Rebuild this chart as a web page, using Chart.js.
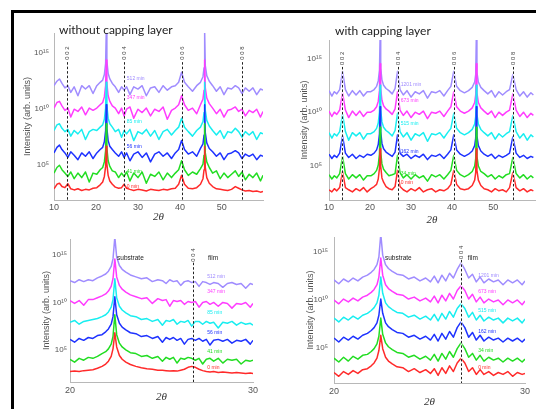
<!DOCTYPE html>
<html>
<head>
<meta charset="utf-8">
<script src="https://cdn.jsdelivr.net/npm/chart.js@4.4.1/dist/chart.umd.min.js"></script>
<style>
  body { margin: 0; background: #fff; width: 536px; height: 409px; overflow: hidden; position: relative; }
  #frame { position: absolute; left: 11px; top: 10px; width: 530px; height: 405px; border-top: 3px solid #000; border-left: 3px solid #000; }
  canvas { position: absolute; }
</style>
</head>
<body>
<div id="frame"></div>
<canvas id="tl" width="254" height="210" style="left:14px;top:14px"></canvas>
<canvas id="tr" width="251" height="214" style="left:285px;top:14px"></canvas>
<canvas id="bl" width="250" height="183" style="left:14px;top:226px"></canvas>
<canvas id="br" width="251" height="183" style="left:285px;top:226px"></canvas>
<script>
// ---- data (intensities as log10 values) ----
const panelTitles = ["without capping layer", "with capping layer"];
const axisTitleY = "Intensity (arb. units)";
const axisTitleX = "2θ";
const yTickValues = [1e5, 1e10, 1e15];
const yTickLabels = ["10⁵", "10¹⁰", "10¹⁵"];
const topXTicks = [10, 20, 30, 40, 50];
const bottomXTicks = [20, 30];
const peakNames = ["0 0 2", "0 0 4", "0 0 6", "0 0 8"];
const peakTop = [13.2, 26.7, 40.4, 54.8];
const peakBottomNames = ["0 0 4"];
const peakBottomL = [26.7];
const peakBottomR = [26.65];
const noteTexts = ["substrate", "film"];
const namesNoCap = ["0 min", "41 min", "56 min", "85 min", "347 min", "512 min"];
const namesCap = ["0 min", "34 min", "162 min", "515 min", "673 min", "1201 min"];

const xTop = [10.0,10.7,11.3,11.9,12.6,13.3,14.0,14.8,15.7,16.6,17.5,18.4,19.3,20.2,21.0,21.6,22.0,22.3,22.45,22.6,22.9,23.3,23.9,24.6,25.4,26.1,26.7,27.3,28.1,29.0,30.0,31.0,32.0,33.0,34.0,35.0,36.0,37.0,38.0,38.9,39.7,40.4,41.1,42.0,43.0,44.0,44.9,45.5,45.75,45.9,46.05,46.4,47.0,47.8,48.7,49.6,50.5,51.4,52.3,53.2,54.0,54.8,55.6,56.5,57.4,58.3,59.2,59.8];

const tlRed = [2.9,3.3,3.4,3.1,3.0,3.35,2.9,2.8,2.9,2.75, 2.85,2.8,2.95,3.0,3.25,3.5,4.0,4.9,6.7,5.1, 4.1,3.6,3.3,3.05,2.95,3.0,3.3,2.95,2.85,2.75, 2.85,2.8,2.7,2.85,2.8,2.75,2.85,2.8,2.9,2.95, 3.3,4.1,3.3,2.95,2.9,3.0,3.3,3.8,4.6,6.7, 4.8,3.9,3.4,3.1,2.9,2.85,2.8,2.75,2.85,3.1, 2.95,2.8,2.7,2.75,2.65,2.7,2.6,2.65];
const tlGreen = [4.3,4.8,5.0,4.6,4.3,4.0,4.4,3.8,4.3,3.9, 4.4,3.5,4.3,4.2,4.6,4.8,5.3,6.3,8.7,6.5, 5.4,4.9,4.5,4.4,3.9,4.3,4.0,4.4,3.6,4.3, 3.9,4.4,3.4,4.2,4.0,4.4,3.7,4.3,3.9,4.3, 4.6,5.4,4.6,4.1,4.4,4.2,4.7,5.1,5.9,8.7, 6.1,5.3,4.8,4.3,4.5,3.8,4.3,3.9,4.2,4.5, 4.0,4.4,3.7,4.2,3.9,4.3,3.6,4.1];
const tlBlue = [6.1,6.6,6.8,6.4,6.1,5.7,6.2,5.9,5.5,6.1, 5.8,6.2,5.6,6.1,6.4,6.6,7.1,8.1,10.4,8.3, 7.2,6.7,6.4,6.1,5.8,6.2,5.7,6.1,5.4,6.0, 6.2,5.7,6.1,5.3,6.0,6.2,5.8,6.1,5.6,6.1, 6.4,7.2,6.4,6.0,6.2,5.8,6.5,6.9,7.7,10.4, 7.9,7.0,6.5,6.2,5.8,6.1,5.5,6.0,6.1,6.3, 6.1,5.6,6.0,5.8,6.0,5.5,5.9,5.8];
const tlCyan = [8.1,8.6,8.7,8.3,8.0,8.2,7.6,8.1,7.8,8.2, 7.3,8.0,8.2,8.1,8.4,8.6,9.1,10.1,12.4,10.3, 9.2,8.7,8.4,8.0,8.2,7.5,8.1,7.8,8.2,7.2, 8.0,7.8,8.2,7.6,8.1,7.3,8.0,8.2,7.7,8.1, 8.4,9.2,8.4,8.0,7.6,8.1,8.4,8.9,9.7,12.4, 9.9,9.0,8.5,8.1,7.7,8.1,7.4,8.0,7.9,8.3, 8.0,7.5,8.0,7.7,8.0,7.3,7.9,7.8];
const tlMagenta = [10.1,10.6,10.7,10.3,9.9,10.1,9.3,10.0,9.8,10.2, 9.5,10.1,9.9,10.1,10.4,10.6,11.1,12.1,14.4,12.3, 11.2,10.7,10.3,10.1,9.6,10.1,9.4,10.0,10.2,9.2, 10.0,9.7,10.1,9.4,10.0,9.8,10.2,9.1,9.9,10.1, 10.4,11.2,10.4,9.9,10.1,9.6,10.4,10.9,11.7,14.4, 11.9,11.0,10.5,10.1,9.6,10.0,9.3,9.9,10.0,10.2, 9.8,10.0,9.4,9.9,9.7,10.0,9.3,9.8];
const tlPurple = [12.1,12.5,12.7,12.3,11.9,12.1,11.5,12.0,11.2,12.1, 11.8,12.1,11.4,12.1,12.4,12.6,13.1,14.1,16.9,14.3, 13.2,12.7,12.3,12.0,11.5,12.0,11.7,12.0,11.3,12.0, 11.8,12.1,11.2,11.9,12.0,11.5,12.1,11.7,12.0,12.1, 12.4,13.3,12.4,12.0,11.6,12.1,12.4,12.9,13.7,16.9, 13.9,13.0,12.5,12.1,11.6,12.0,11.3,11.9,11.8,12.1, 11.9,11.4,11.9,11.6,11.9,11.3,11.8,11.7];

const trRed = [2.8,2.6,2.9,2.7,3.0,4.5,3.0,2.8,2.6,2.9, 2.7,3.0,2.6,2.9,3.1,3.3,3.8,4.8,6.6,5.0, 3.9,3.5,3.1,2.9,2.8,3.1,4.6,3.1,2.8,2.6, 2.9,2.7,3.0,2.6,2.8,2.9,2.6,2.8,2.7,2.9, 3.3,4.6,3.3,2.9,2.8,2.9,3.2,3.7,4.4,6.6, 4.6,3.7,3.2,2.9,2.8,2.6,2.9,2.7,2.8,2.6, 3.0,4.4,3.0,2.7,2.9,2.6,2.8,2.7];
const trGreen = [4.2,3.8,4.1,3.9,4.3,5.9,4.3,3.8,4.2,3.9, 4.2,3.7,4.1,4.1,4.3,4.6,5.1,6.1,8.6,6.3, 5.2,4.7,4.4,4.1,4.2,4.3,6.0,4.4,3.9,4.2, 3.8,4.2,3.9,4.1,3.6,4.2,4.0,4.2,3.8,4.2, 4.6,6.0,4.6,4.2,4.0,4.2,4.5,5.0,5.7,8.6, 5.9,5.0,4.5,4.3,4.0,4.2,3.8,4.1,3.9,4.2, 4.3,5.8,4.3,3.9,4.2,3.8,4.1,3.9];
const trBlue = [6.1,5.7,6.0,5.8,6.2,7.8,6.2,5.8,6.1,5.7, 6.0,5.8,6.1,6.0,6.2,6.5,7.0,8.0,10.5,8.2, 7.1,6.6,6.3,6.1,5.9,6.3,7.9,6.2,5.9,6.1, 5.7,6.0,5.8,6.1,5.6,6.0,5.9,6.1,5.7,6.1, 6.5,7.9,6.5,6.1,5.9,6.1,6.4,6.9,7.6,10.5, 7.8,6.9,6.4,6.1,5.9,6.1,5.7,6.0,5.8,6.0, 6.2,7.7,6.2,5.8,6.0,5.7,5.9,5.8];
const trCyan = [8.1,7.6,8.0,7.8,8.2,9.8,8.2,7.4,8.1,7.8, 8.1,7.5,8.0,8.0,8.2,8.5,9.0,10.0,12.5,10.2, 9.1,8.6,8.3,8.1,7.8,8.3,9.9,8.2,7.7,8.1, 7.4,8.0,7.8,8.1,7.3,8.0,7.9,8.1,7.6,8.1, 8.5,9.9,8.5,8.1,7.9,8.1,8.4,8.9,9.6,12.5, 9.8,8.9,8.4,8.1,7.8,8.1,7.5,8.0,7.7,8.0, 8.2,9.7,8.2,7.6,8.0,7.4,7.9,7.7];
const trMagenta = [10.1,9.6,10.0,9.8,10.2,11.8,10.2,9.5,10.1,9.7, 10.1,9.6,10.0,10.0,10.2,10.5,11.0,12.0,14.5,12.2, 11.1,10.6,10.3,10.1,9.8,10.3,11.9,10.2,9.7,10.1, 9.5,10.0,9.8,10.1,9.4,10.0,9.9,10.1,9.6,10.1, 10.5,11.9,10.5,10.1,9.9,10.1,10.4,10.9,11.6,14.5, 11.8,10.9,10.4,10.1,9.8,10.1,9.5,10.0,9.7,10.0, 10.2,11.7,10.2,9.6,10.0,9.5,9.9,9.7];
const trPurple = [12.0,11.5,11.9,11.7,12.1,13.8,12.1,11.5,12.0,11.6, 12.0,11.5,11.9,11.9,12.1,12.4,12.9,13.9,16.9,14.1, 13.0,12.5,12.2,12.0,11.7,12.2,13.8,12.1,11.6,12.0, 11.4,11.9,11.7,12.0,11.3,11.9,11.8,12.0,11.5,12.0, 12.4,13.8,12.4,12.0,11.8,12.0,12.3,12.8,13.5,16.9, 13.7,12.8,12.3,12.0,11.7,12.0,11.4,11.9,11.6,11.9, 12.1,13.5,12.1,11.5,11.9,11.4,11.8,11.6];

const xBot = [20.0,20.25,20.5,20.75,21.0,21.25,21.5,21.75,21.95,22.1,22.25,22.35,22.45,22.55,22.7,22.85,23.05,23.3,23.6,23.9,24.2,24.5,24.8,25.05,25.25,25.45,25.65,25.85,26.05,26.25,26.45,26.65,26.85,27.05,27.25,27.45,27.65,27.85,28.1,28.35,28.6,28.85,29.1,29.35,29.6,29.85,30.0];

const blRed = [2.7,2.75,2.7,2.8,2.85,2.9,3.05,3.25,3.5,3.8, 4.3,5.1,6.8,5.3,4.4,4.0,3.7,3.45,3.25,3.1, 3.0,2.95,2.85,2.85,2.8,2.75,2.8,2.75,2.85,2.95, 3.15,3.25,3.15,2.95,2.8,2.7,2.65,2.7,2.6,2.65, 2.6,2.55,2.6,2.55,2.5,2.55,2.5];
const blGreen = [4.0,3.7,4.1,3.9,4.2,4.1,4.3,4.6,4.8,5.1, 5.6,6.4,8.7,6.6,5.7,5.3,5.0,4.7,4.6,4.3, 4.4,4.1,4.3,3.8,4.2,4.0,4.2,3.6,4.1,4.0, 4.2,4.1,3.9,4.1,3.5,4.0,4.1,3.8,4.1,3.6, 4.0,3.9,4.0,3.5,3.9,3.8,3.9];
const blBlue = [6.1,5.8,6.2,6.0,6.3,6.2,6.5,6.6,6.9,7.2, 7.7,8.5,10.6,8.7,7.8,7.4,7.1,6.8,6.7,6.4, 6.5,6.2,6.4,5.8,6.3,6.1,6.3,6.0,6.2,5.6, 6.1,6.2,6.0,6.2,5.9,6.1,5.5,6.0,6.1,5.9, 6.1,5.7,6.0,5.9,6.1,5.6,6.0];
const blCyan = [7.9,8.1,7.7,8.0,8.1,8.2,8.3,8.5,8.7,9.0, 9.5,10.3,12.5,10.5,9.6,9.2,8.9,8.6,8.5,8.2, 8.3,8.0,8.2,7.6,8.1,8.0,8.2,7.7,8.0,7.9, 8.1,7.5,8.0,8.0,7.7,8.0,7.8,7.9,7.3,7.9, 7.8,8.0,7.6,7.9,7.7,7.8,7.6];
const blMagenta = [10.2,9.9,10.2,9.7,10.3,10.3,10.5,10.7,10.9,11.2, 11.7,12.5,14.6,12.7,11.8,11.4,11.1,10.8,10.6,10.4, 10.5,9.9,10.4,10.2,10.3,9.6,10.2,10.1,10.2,9.8, 10.1,10.0,10.1,9.5,10.0,10.1,9.8,10.0,9.6,10.0, 9.9,9.4,9.9,9.8,10.0,9.5,9.9];
const blPurple = [12.3,12.1,12.4,12.2,12.4,12.3,12.6,12.8,13.0,13.3, 13.8,14.6,16.9,14.8,13.9,13.5,13.2,12.9,12.7,12.5, 12.6,12.2,12.4,12.3,12.0,12.4,12.2,12.3,11.8,12.2, 12.3,12.1,12.2,11.7,12.2,12.1,11.9,12.1,12.0,11.6, 12.0,12.1,11.9,12.0,11.5,12.0,11.9];

const brRed = [2.4,2.0,2.5,2.2,2.6,2.3,2.7,2.8,3.1,3.4, 3.9,4.7,6.3,4.9,4.0,3.6,3.3,3.0,2.9,2.5, 2.8,2.4,2.7,2.3,2.8,2.1,2.9,2.3,3.1,2.5, 3.4,3.9,3.4,2.5,2.9,2.2,2.7,2.2,2.5,2.1, 2.4,2.2,2.5,2.0,2.4,2.2,2.3];
const brGreen = [3.9,3.5,4.0,3.6,4.1,3.8,4.2,4.3,4.6,4.9, 5.4,6.2,8.1,6.4,5.5,5.1,4.8,4.5,4.4,4.0, 4.2,3.8,4.1,3.7,4.3,3.6,4.4,3.8,4.6,4.0, 4.9,5.5,4.9,4.0,4.4,3.7,4.2,3.6,4.0,3.7, 3.9,3.5,3.9,3.6,3.9,3.5,3.8];
const brBlue = [6.0,5.6,6.1,5.8,6.2,5.9,6.3,6.5,6.8,7.1, 7.6,8.4,10.1,8.6,7.6,7.2,6.9,6.6,6.5,6.1, 6.3,5.9,6.2,5.8,6.4,5.7,6.5,5.9,6.7,6.1, 7.1,7.7,7.1,6.1,6.6,5.8,6.3,5.7,6.1,5.8, 6.0,5.6,6.0,5.7,6.0,5.6,5.9];
const brCyan = [8.1,7.7,8.2,7.9,8.3,8.0,8.4,8.6,8.9,9.2, 9.7,10.5,12.4,10.7,9.7,9.3,9.0,8.7,8.6,8.2, 8.4,8.0,8.3,7.9,8.5,7.8,8.6,8.0,8.8,8.2, 9.1,9.6,9.1,8.2,8.7,7.9,8.4,7.8,8.2,7.9, 8.1,7.6,8.1,7.8,8.1,7.6,8.0];
const brMagenta = [10.0,9.6,10.1,9.8,10.2,9.9,10.3,10.5,10.8,11.1, 11.6,12.4,14.4,12.6,11.6,11.2,10.9,10.6,10.5,10.1, 10.3,9.9,10.2,9.8,10.4,9.7,10.5,9.9,10.7,10.1, 11.0,11.5,11.0,10.1,10.6,9.8,10.3,9.7,10.1,9.8, 10.0,9.5,10.0,9.7,10.0,9.5,9.9];
const brPurple = [12.1,11.7,12.2,11.9,12.3,12.0,12.4,12.6,12.9,13.2, 13.7,14.5,16.9,14.7,13.7,13.3,13.0,12.7,12.6,12.2, 12.4,12.0,12.3,11.9,12.5,11.8,12.6,12.0,12.8,12.3, 13.2,13.9,13.2,12.3,12.7,11.9,12.4,11.8,12.2,11.9, 12.1,11.6,12.1,11.8,12.1,11.6,12.0];

// label heights (log10) for the "xx min" tags, red .. purple
const tlLabelY = [3.1, 4.4, 6.7, 8.9, 11.0, 12.7];
const trLabelY = [3.5, 4.3, 6.3, 8.9, 11.1, 12.6];
const blLabelY = [3.1, 4.8, 6.8, 8.9, 11.1, 12.7];
const brLabelY = [2.9, 4.7, 6.7, 8.85, 10.9, 12.6];

// red is listed first so it is drawn on top
const seriesColors = ["#ff2a2a", "#22dd22", "#1e32ff", "#18eef0", "#ff3cff", "#a08cff"];

const annot = {
  id: "annot",
  afterDatasetsDraw(chart, args, o) {
    const ctx = chart.ctx, a = chart.chartArea, xs = chart.scales.x, ys = chart.scales.y;
    const py = v => ys.getPixelForValue(Math.pow(10, v));
    ctx.save();
    o.lines.forEach((v, i) => {
      const px = Math.round(xs.getPixelForValue(v)) + 0.5;
      const top = py(o.lineTop);
      if (o.white) {
        ctx.setLineDash([]);
        ctx.strokeStyle = "rgba(255,255,255,0.85)";
        ctx.lineWidth = 1.6;
        ctx.beginPath(); ctx.moveTo(px, top); ctx.lineTo(px, a.bottom); ctx.stroke();
      }
      ctx.setLineDash([2.5, 2]);
      ctx.strokeStyle = "#222";
      ctx.lineWidth = 1;
      ctx.beginPath(); ctx.moveTo(px, top); ctx.lineTo(px, a.bottom); ctx.stroke();
      ctx.save();
      ctx.translate(px, py(o.labelAt));
      ctx.rotate(-Math.PI / 2);
      ctx.fillStyle = "#444";
      ctx.font = '6px "Liberation Sans"';
      ctx.textAlign = "center";
      ctx.textBaseline = "middle";
      ctx.fillText(o.lineNames[i], 0, 0);
      ctx.restore();
    });
    ctx.setLineDash([]);
    ctx.font = '5px "Liberation Sans"';
    ctx.textAlign = "left";
    ctx.textBaseline = "middle";
    o.names.forEach((n, i) => {
      ctx.fillStyle = seriesColors[i];
      ctx.fillText(n, xs.getPixelForValue(o.labelX), py(o.labelY[i]));
    });
    ctx.fillStyle = "#222";
    ctx.font = '6.5px "Liberation Sans"';
    o.notes.forEach((n, i) => ctx.fillText(noteTexts[i], xs.getPixelForValue(n[0]), py(n[1])));
    if (o.title) {
      ctx.font = "12px Lato";
      ctx.fillText(o.title, a.left + o.titleAt[0], a.top + o.titleAt[1]);
    }
    ctx.restore();
  }
};

function makePanel(p) {
  return new Chart(document.getElementById(p.id), {
    type: "line",
    data: {
      datasets: p.series.map((s, i) => ({
        label: p.names[i],
        data: p.x.map((x, j) => ({ x: x, y: Math.pow(10, s[j]) })),
        borderColor: seriesColors[i],
        borderWidth: 1.5,
        borderJoinStyle: "round",
        pointRadius: 0,
        tension: 0,
        fill: false
      }))
    },
    options: {
      responsive: false,
      animation: false,
      layout: { padding: p.pad },
      plugins: {
        legend: { display: false },
        tooltip: { enabled: false },
        annot: {
          lines: p.lines, lineNames: p.lineNames, white: p.white, lineTop: 14.2, labelAt: 15.0,
          names: p.names, labelX: p.labelX, labelY: p.labelY, notes: p.notes,
          title: p.title, titleAt: p.titleAt
        }
      },
      scales: {
        x: {
          type: "linear", min: p.xr[0], max: p.xr[1],
          afterFit(s) { s.height = p.xh; },
          afterBuildTicks(s) { s.ticks = p.xticks.map(v => ({ value: v })); },
          grid: { display: false, drawTicks: false },
          border: { color: "#b8b8b8" },
          ticks: { color: "#555", font: { size: 9, family: "Liberation Sans" }, padding: p.xtp, maxRotation: 0, autoSkip: false },
          title: { display: true, text: axisTitleX, color: "#333", font: { family: "Liberation Serif", style: "italic", size: 11 }, padding: { top: 0, bottom: p.xtpb } }
        },
        y: {
          type: "logarithmic", min: Math.pow(10, p.yr[0]), max: Math.pow(10, p.yr[1]),
          afterFit(s) { s.width = p.yw; },
          afterBuildTicks(s) { s.ticks = yTickValues.map(v => ({ value: v })); },
          grid: { display: false, drawTicks: false },
          border: { color: "#b8b8b8" },
          ticks: { color: "#555", font: { size: 8, family: "Liberation Sans" }, padding: p.ytp, autoSkip: false, callback: (v, i) => yTickLabels[i] },
          title: { display: true, text: axisTitleY, color: "#555", font: { size: 9, family: "Liberation Sans" }, padding: { top: p.ytpt, bottom: 0 } }
        }
      }
    },
    plugins: [annot]
  });
}

makePanel({
  id: "tl", x: xTop, series: [tlRed, tlGreen, tlBlue, tlCyan, tlMagenta, tlPurple], names: namesNoCap,
  xr: [10, 59.8], yr: [1.9, 16.8], xticks: topXTicks, yw: 40, xh: 24,
  pad: { top: 19, right: 5, left: 0, bottom: 0 }, xtp: 2, xtpb: 0.4, ytp: 5, ytpt: 8.6,
  lines: peakTop, lineNames: peakNames, white: false,
  labelX: 27.35, labelY: tlLabelY, notes: [], title: panelTitles[0], titleAt: [5, -3]
});
makePanel({
  id: "tr", x: xTop, series: [trRed, trGreen, trBlue, trCyan, trMagenta, trPurple], names: namesCap,
  xr: [10, 60.2], yr: [1.85, 16.7], xticks: topXTicks, yw: 44, xh: 28,
  pad: { top: 26, right: 1, left: 0, bottom: 0 }, xtp: 2, xtpb: 1.4, ytp: 7, ytpt: 14.6,
  lines: peakTop, lineNames: peakNames, white: true,
  labelX: 27.5, labelY: trLabelY, notes: [], title: panelTitles[1], titleAt: [6, -9]
});
makePanel({
  id: "bl", x: xBot, series: [blRed, blGreen, blBlue, blCyan, blMagenta, blPurple], names: namesNoCap,
  xr: [20, 30], yr: [1.6, 16.7], xticks: bottomXTicks, yw: 56, xh: 27,
  pad: { top: 13, right: 11, left: 0, bottom: 0 }, xtp: 3, xtpb: 5.4, ytp: 3, ytpt: 27.6,
  lines: peakBottomL, lineNames: peakBottomNames, white: false,
  labelX: 27.5, labelY: blLabelY, notes: [[22.57, 14.7], [27.54, 14.7]], title: null, titleAt: [0, 0]
});
makePanel({
  id: "br", x: xBot, series: [brRed, brGreen, brBlue, brCyan, brMagenta, brPurple], names: namesCap,
  xr: [20, 30], yr: [1.3, 16.6], xticks: bottomXTicks, yw: 49, xh: 26,
  pad: { top: 11, right: 11, left: 0, bottom: 0 }, xtp: 3, xtpb: 0.4, ytp: 6, ytpt: 20.6,
  lines: peakBottomR, lineNames: peakBottomNames, white: true,
  labelX: 27.55, labelY: brLabelY, notes: [[22.67, 14.4], [27.0, 14.4]], title: null, titleAt: [0, 0]
});
</script>
</body>
</html>
